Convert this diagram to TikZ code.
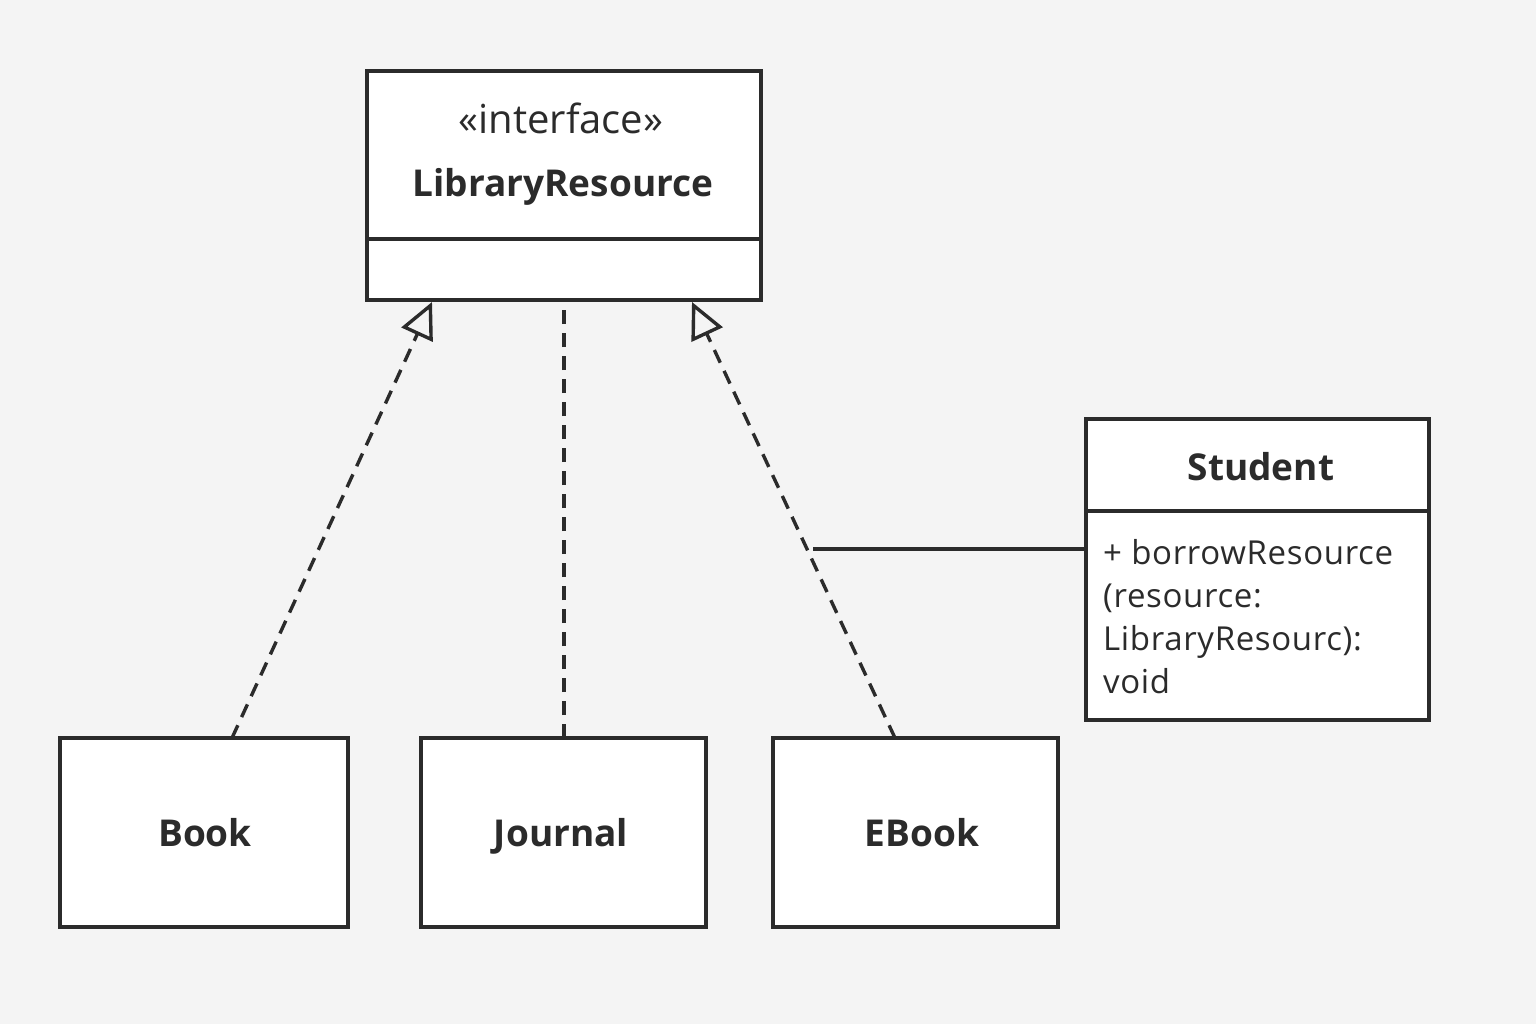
\documentclass[tikz,border=0pt]{standalone}
\usepackage{fontspec}
\setmainfont{Open Sans}
\usetikzlibrary{arrows.meta}
\definecolor{bg}{HTML}{F4F4F4}
\definecolor{ink}{HTML}{2B2B2B}
\tikzset{
  box/.style={draw=ink, fill=white, line width=4pt},
  dep/.style={draw=ink, line width=3.4pt, dash pattern=on 14pt off 9pt},
  real/.style={dep, -{Triangle[open, length=36pt, width=34pt, line width=3.4pt]}},
  assoc/.style={draw=ink, line width=3.4pt},
  lbl/.style={text=ink, inner sep=0pt, anchor=base},
  big/.style={font=\fontsize{37}{42}\selectfont\bfseries},
}
\begin{document}
\begin{tikzpicture}[x=1pt, y=-1pt]
\fill[bg] (0,0) rectangle (1536,1024);
\useasboundingbox (0,0) rectangle (1536,1024);
% LibraryResource
\draw[box] (367,71) rectangle (761,300);
\draw[ink, line width=4pt] (367,239) -- (761,239);
\coordinate (lrb1) at (432,302);
\coordinate (lrb2) at (564,302);
\coordinate (lrb3) at (692,302);
\node[lbl, font=\fontsize{40}{46}\selectfont] (st) at (561,134) {«interface»};
\node[lbl, big] (lr) at (563,197) {LibraryResource};
% subclasses
\draw[box] (60,738) rectangle (348,927);
\node[lbl, big] (book) at (205,846) {Book};
\draw[box] (421,738) rectangle (706,927);
\node[lbl, big] (journal) at (561,846) {Journal};
\draw[box] (773,738) rectangle (1058,927);
\node[lbl, big] (ebook) at (922,846) {EBook};
\coordinate (bt) at (232,738);
\coordinate (jt) at (564,738);
\coordinate (et) at (895,738);
% Student
\draw[box] (1086,419) rectangle (1429,720);
\draw[ink, line width=4pt] (1086,511) -- (1429,511);
\node[lbl, big] (student) at (1261,480) {Student};
\node[lbl, anchor=base west, align=left, font=\fontsize{33}{43}\selectfont\addfontfeatures{LetterSpace=2}] (meth) at (1103,693) {+ borrowResource\\(resource:\\LibraryResourc):\\void};
\coordinate (sl) at (1086,549);
\coordinate (mid) at (813,549);
% connectors
\draw[real] (bt) -- (lrb1);
\draw[dep] (jt) -- (lrb2);
\draw[real] (et) -- (lrb3);
\draw[assoc] (mid) -- (sl);
\end{tikzpicture}
\end{document}
